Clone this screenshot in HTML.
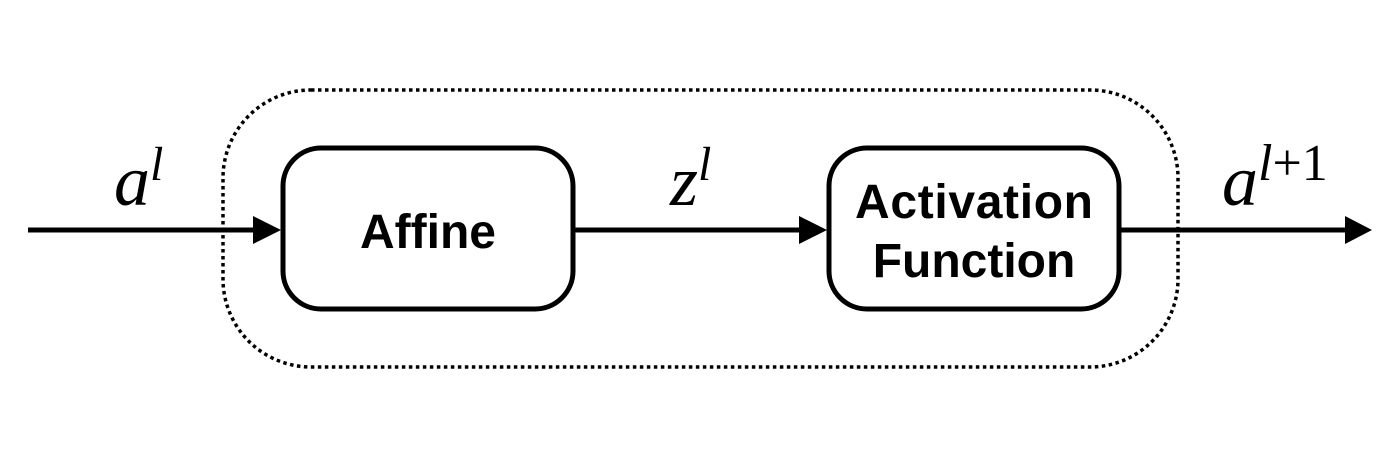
<!DOCTYPE html>
<html><head><meta charset="utf-8"><style>
html,body{margin:0;padding:0;background:#fff;}
svg{display:block;}
.m{font-family:"Liberation Serif",serif;font-style:italic;fill:#000;}
.b{font-family:"Liberation Sans",sans-serif;font-weight:bold;fill:#000;font-size:48px;}
</style></head><body>
<svg width="1394" height="456" viewBox="0 0 1394 456">
<rect x="223" y="90" width="955" height="277" rx="88" ry="88" fill="none" stroke="#000" stroke-width="3.5" stroke-dasharray="3.5 3.5"/>
<g>
<line x1="28" y1="230" x2="256" y2="230" stroke="#000" stroke-width="5"/>
<polygon points="253,216 281,230 253,244" fill="#000"/>
</g>
<g>
<line x1="573" y1="230" x2="802" y2="230" stroke="#000" stroke-width="5"/>
<polygon points="799,216 827,230 799,244" fill="#000"/>
</g>
<g>
<line x1="1119" y1="230" x2="1348" y2="230" stroke="#000" stroke-width="5"/>
<polygon points="1345,216 1372,230 1345,244" fill="#000"/>
</g>
<rect x="283" y="148" width="290" height="161" rx="38" ry="38" fill="#fff" stroke="#000" stroke-width="5"/>
<text class="b" x="428" y="248" text-anchor="middle">Affine</text>
<rect x="829" y="148" width="290" height="161" rx="38" ry="38" fill="#fff" stroke="#000" stroke-width="5"/>
<text class="b" x="974" y="218" text-anchor="middle" textLength="238">Activation</text>
<text class="b" x="974" y="277" text-anchor="middle">Function</text>
<text class="m" x="114" y="205" font-size="72">a<tspan font-size="48" dy="-25">l</tspan></text>
<text class="m" x="670" y="205" font-size="72">z<tspan font-size="48" dy="-25">l</tspan></text>
<text class="m" x="1222" y="205" font-size="72">a<tspan font-size="52" dy="-25">l</tspan><tspan font-size="52" font-style="normal">+1</tspan></text>
</svg>
</body></html>
